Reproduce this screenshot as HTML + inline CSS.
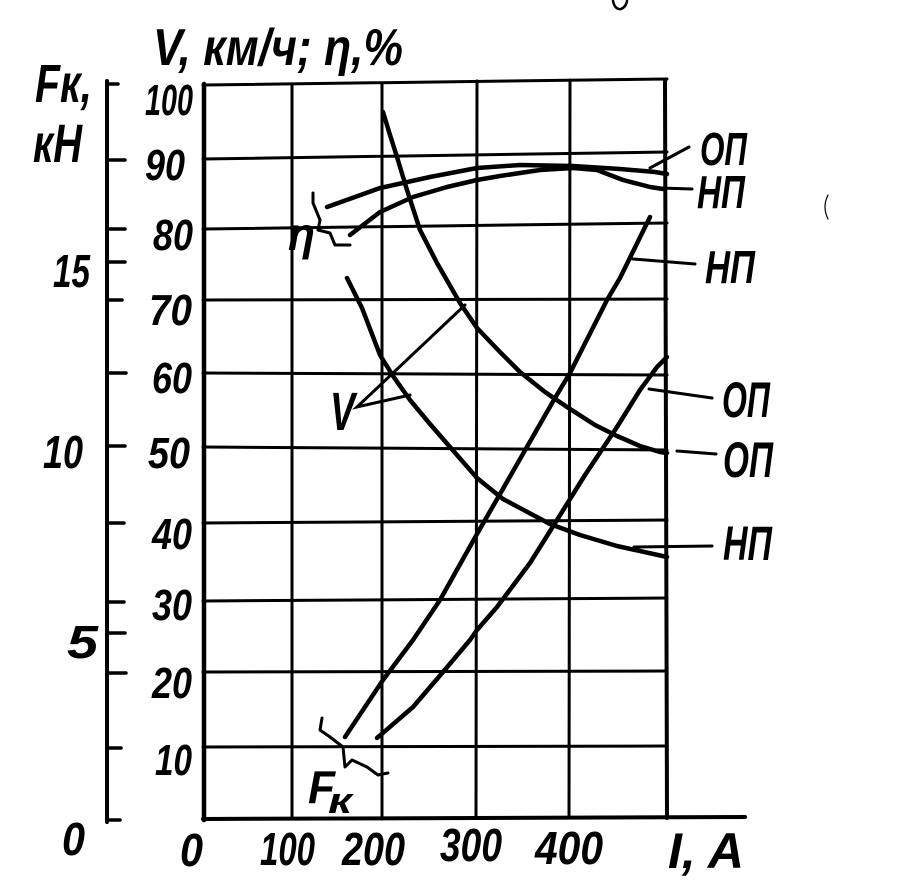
<!DOCTYPE html>
<html><head><meta charset="utf-8"><style>
html,body{margin:0;padding:0;background:#fff;}
svg{display:block;}
text{font-family:"Liberation Sans",sans-serif;font-style:italic;font-weight:bold;fill:#000;}
</style></head><body>
<svg width="899" height="893" viewBox="0 0 899 893" xmlns="http://www.w3.org/2000/svg">
<rect width="899" height="893" fill="#fff"/>
<g stroke="#000" fill="none" stroke-linecap="round">
<!-- Fk axis -->
<line x1="107" y1="81" x2="107" y2="822" stroke-width="4"/>
<g stroke-width="3.5">
<line x1="107" y1="84" x2="118" y2="84"/>
<line x1="107" y1="160" x2="125" y2="160"/>
<line x1="107" y1="229" x2="125" y2="229"/>
<line x1="107" y1="262" x2="125" y2="262"/>
<line x1="107" y1="300" x2="122" y2="300"/>
<line x1="107" y1="373" x2="126" y2="373"/>
<line x1="107" y1="446" x2="125" y2="446"/>
<line x1="107" y1="523" x2="124" y2="523"/>
<line x1="107" y1="602" x2="124" y2="602"/>
<line x1="107" y1="633" x2="125" y2="633"/>
<line x1="107" y1="673" x2="126" y2="673"/>
<line x1="107" y1="748" x2="121" y2="748"/>
<line x1="107" y1="820" x2="120" y2="820"/>
</g>
<!-- grid -->
<line x1="204" y1="84" x2="204" y2="820" stroke-width="4.5"/>
<g stroke-width="3">
<line x1="292" y1="84" x2="292" y2="819"/>
<line x1="382" y1="83" x2="382" y2="819"/>
<line x1="477" y1="81" x2="476" y2="818"/>
<line x1="570" y1="80" x2="569" y2="818"/>
</g>
<line x1="665" y1="80" x2="667" y2="818" stroke-width="4"/>
<g stroke-width="3">
<line x1="203" y1="85" x2="667" y2="79"/>
<line x1="203" y1="159" x2="667" y2="152"/>
<line x1="203" y1="229" x2="667" y2="223"/>
<line x1="203" y1="300" x2="667" y2="299"/>
<line x1="203" y1="373" x2="667" y2="375"/>
<line x1="203" y1="447" x2="667" y2="450"/>
<line x1="203" y1="523" x2="667" y2="520"/>
<line x1="203" y1="601" x2="667" y2="598"/>
<line x1="203" y1="672" x2="667" y2="671"/>
<line x1="203" y1="747" x2="667" y2="746"/>
</g>
<line x1="203" y1="819" x2="745" y2="817" stroke-width="4"/>
<!-- curves -->
<g stroke-width="4.5" stroke-linejoin="round">
<polyline points="327,207 355,197 380,188 430,177 477,168 520,165 573,166 620,169 655,172 667,174"/>
<polyline points="350,235 380,212 413,197 447,187 477,180 500,176 540,170 573,168 597,170 623,180 650,187 663,189"/>
<polyline points="383,112 390,135 397,157 407,190 420,230 437,263 460,303 477,328 500,352 520,372 545,392 567,407 595,425 617,436 640,446 660,452 667,453"/>
<polyline points="347,278 362,308 380,355 393,376 410,400 430,424 450,447 477,478 503,499 550,524 580,535 617,546 667,557"/>
<polyline points="345,737 383,680 413,640 440,600 477,534 500,494 555,398 570,373 607,300 620,278 650,217"/>
<polyline points="377,738 413,707 443,672 470,640 477,630 497,607 530,563 557,520 585,475 617,427 640,390 657,367 667,357"/>
</g>
<!-- leaders -->
<g stroke-width="3">
<line x1="689" y1="147" x2="650" y2="168"/>
<line x1="692" y1="189" x2="660" y2="188"/>
<line x1="695" y1="264" x2="633" y2="259"/>
<line x1="712" y1="398" x2="649" y2="389"/>
<line x1="716" y1="454" x2="677" y2="451"/>
<line x1="712" y1="546" x2="634" y2="547"/>
<!-- V pointer -->
<polyline points="465,305 357,407 410,395"/>
<!-- eta bracket -->
<polyline points="313,193 313,203 320,220 318,230 330,233 335,245 350,245" stroke-linejoin="round"/>
<!-- Fk bracket -->
<polyline points="322,718 320,730 330,737 343,747 345,767 352,760 367,767 378,775 388,773" stroke-linejoin="round"/>
</g>
<path d="M613,1 Q615,10 621,9 Q626,7 627,1" stroke-width="2.5"/>
<path d="M828,195 Q822,207 828,219" stroke-width="1.2"/>
</g>
<!-- titles -->
<text x="153" y="65" font-size="52" textLength="250" lengthAdjust="spacingAndGlyphs">V, км/ч; η,%</text>
<text x="35" y="102" font-size="54" textLength="57" lengthAdjust="spacingAndGlyphs">Fк,</text>
<text x="33" y="162" font-size="54" textLength="49" lengthAdjust="spacingAndGlyphs">кН</text>
<!-- V axis labels -->
<g font-size="44">
<text x="145" y="115" textLength="48" lengthAdjust="spacingAndGlyphs">100</text>
<text x="145" y="180" textLength="40" lengthAdjust="spacingAndGlyphs">90</text>
<text x="153" y="250" textLength="40" lengthAdjust="spacingAndGlyphs">80</text>
<text x="149" y="325" textLength="43" lengthAdjust="spacingAndGlyphs">70</text>
<text x="152" y="393" textLength="40" lengthAdjust="spacingAndGlyphs">60</text>
<text x="148" y="468" textLength="42" lengthAdjust="spacingAndGlyphs">50</text>
<text x="152" y="549" textLength="40" lengthAdjust="spacingAndGlyphs">40</text>
<text x="152" y="620" textLength="40" lengthAdjust="spacingAndGlyphs">30</text>
<text x="152" y="698" textLength="40" lengthAdjust="spacingAndGlyphs">20</text>
<text x="155" y="775" textLength="37" lengthAdjust="spacingAndGlyphs">10</text>
<!-- Fk labels -->
<text x="53" y="287" font-size="46" textLength="37" lengthAdjust="spacingAndGlyphs">15</text>
<text x="43" y="468" font-size="46" textLength="40" lengthAdjust="spacingAndGlyphs">10</text>
<text x="67" y="658" font-size="46" textLength="31" lengthAdjust="spacingAndGlyphs">5</text>
<text x="62" y="855" font-size="46" textLength="23" lengthAdjust="spacingAndGlyphs">0</text>
</g>
<!-- x labels -->
<g font-size="46">
<text x="180" y="866" textLength="23" lengthAdjust="spacingAndGlyphs">0</text>
<text x="260" y="865" textLength="55" lengthAdjust="spacingAndGlyphs">100</text>
<text x="342" y="865" textLength="63" lengthAdjust="spacingAndGlyphs">200</text>
<text x="440" y="861" textLength="62" lengthAdjust="spacingAndGlyphs">300</text>
<text x="535" y="864" textLength="68" lengthAdjust="spacingAndGlyphs">400</text>
<text x="668" y="868" font-size="50" textLength="76" lengthAdjust="spacingAndGlyphs">I, A</text>
</g>
<!-- right labels -->
<g font-size="46">
<text x="700" y="165" textLength="47" lengthAdjust="spacingAndGlyphs">ОП</text>
<text x="697" y="208" textLength="48" lengthAdjust="spacingAndGlyphs">НП</text>
<text x="705" y="283" textLength="50" lengthAdjust="spacingAndGlyphs">НП</text>
<text x="722" y="417" font-size="50" textLength="48" lengthAdjust="spacingAndGlyphs">ОП</text>
<text x="723" y="477" font-size="50" textLength="50" lengthAdjust="spacingAndGlyphs">ОП</text>
<text x="723" y="560" font-size="48" textLength="49" lengthAdjust="spacingAndGlyphs">НП</text>
</g>
<!-- curve labels -->
<text x="288" y="250" font-size="46" textLength="27" lengthAdjust="spacingAndGlyphs">η</text>
<text x="330" y="430" font-size="54" textLength="25" lengthAdjust="spacingAndGlyphs">V</text>
<text x="308" y="803" font-size="46" textLength="27" lengthAdjust="spacingAndGlyphs">F</text>
<text x="328" y="813" font-size="36" textLength="24" lengthAdjust="spacingAndGlyphs">к</text>
</svg>
</body></html>
